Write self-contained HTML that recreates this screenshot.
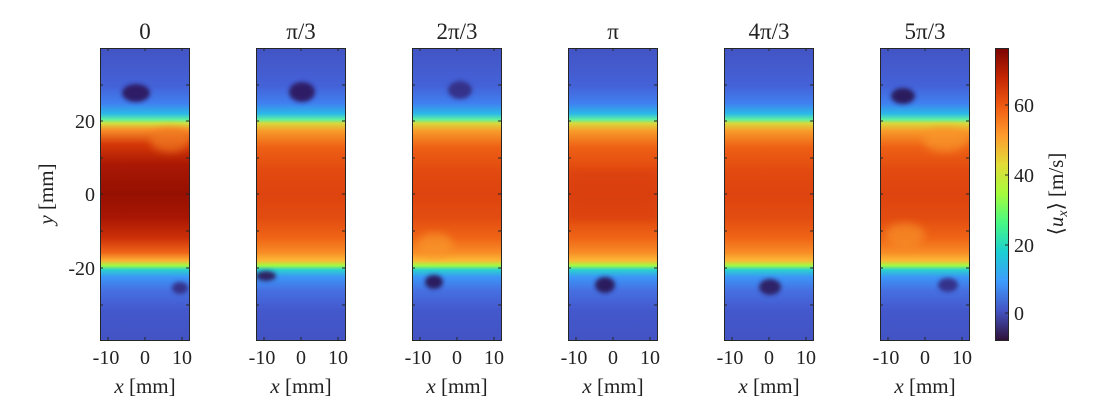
<!DOCTYPE html>
<html><head><meta charset="utf-8"><style>
html,body{margin:0;padding:0;background:#fff}
svg text{font-family:"Liberation Serif","DejaVu Serif",serif;fill:#222}
</style></head><body>
<svg width="1113" height="414" viewBox="0 0 1113 414" xmlns="http://www.w3.org/2000/svg">
<defs>
<filter id="bl" x="-50%" y="-50%" width="200%" height="200%"><feGaussianBlur stdDeviation="4"/></filter>
<filter id="bl2" x="-50%" y="-50%" width="200%" height="200%"><feGaussianBlur stdDeviation="2"/></filter>
<linearGradient id="g0" x1="0" y1="48" x2="0" y2="340" gradientUnits="userSpaceOnUse">
<stop offset="0" stop-color="#4354c4"/><stop offset="0.13" stop-color="#4462d8"/>
<stop offset="0.19" stop-color="#4080f0"/><stop offset="0.225" stop-color="#2ab8e8"/>
<stop offset="0.245" stop-color="#60f0a0"/><stop offset="0.258" stop-color="#d0e040"/>
<stop offset="0.28" stop-color="#f8902a"/><stop offset="0.33" stop-color="#d43808"/>
<stop offset="0.4" stop-color="#a91804"/><stop offset="0.5" stop-color="#961001"/>
<stop offset="0.58" stop-color="#a81603"/><stop offset="0.65" stop-color="#cc3008"/>
<stop offset="0.7" stop-color="#ef6418"/><stop offset="0.728" stop-color="#fbb035"/>
<stop offset="0.745" stop-color="#a2fa42"/><stop offset="0.76" stop-color="#2ad0cf"/>
<stop offset="0.785" stop-color="#3b95f7"/><stop offset="0.83" stop-color="#4670e2"/>
<stop offset="0.9" stop-color="#4358cc"/><stop offset="1" stop-color="#4354c4"/>
</linearGradient>
<linearGradient id="g1" x1="0" y1="48" x2="0" y2="340" gradientUnits="userSpaceOnUse">
<stop offset="0" stop-color="#4354c4"/><stop offset="0.13" stop-color="#4462d8"/>
<stop offset="0.19" stop-color="#4080f0"/><stop offset="0.225" stop-color="#2ab8e8"/>
<stop offset="0.245" stop-color="#60f0a0"/><stop offset="0.258" stop-color="#d8d83c"/>
<stop offset="0.285" stop-color="#f89a2a"/><stop offset="0.34" stop-color="#ee6015"/>
<stop offset="0.42" stop-color="#e24a10"/><stop offset="0.5" stop-color="#de440f"/>
<stop offset="0.58" stop-color="#e24c10"/><stop offset="0.65" stop-color="#ef6416"/>
<stop offset="0.7" stop-color="#f88c26"/><stop offset="0.728" stop-color="#fbb835"/>
<stop offset="0.745" stop-color="#a2fa42"/><stop offset="0.76" stop-color="#2ad0cf"/>
<stop offset="0.785" stop-color="#3b95f7"/><stop offset="0.83" stop-color="#4670e2"/>
<stop offset="0.9" stop-color="#4358cc"/><stop offset="1" stop-color="#4354c4"/>
</linearGradient>
<linearGradient id="cb" x1="0" y1="340" x2="0" y2="48" gradientUnits="userSpaceOnUse">
<stop offset="0" stop-color="#30123b"/><stop offset="0.1" stop-color="#4454c4"/>
<stop offset="0.2" stop-color="#3e9bfe"/><stop offset="0.3" stop-color="#1bcfd4"/>
<stop offset="0.4" stop-color="#46f884"/><stop offset="0.5" stop-color="#a4fc3c"/>
<stop offset="0.6" stop-color="#e2dc38"/><stop offset="0.7" stop-color="#fe9b2d"/>
<stop offset="0.8" stop-color="#f05b12"/><stop offset="0.9" stop-color="#c32503"/>
<stop offset="1" stop-color="#7a0403"/>
</linearGradient>
<clipPath id="c0"><rect x="100" y="48" width="89" height="292"/></clipPath>
<clipPath id="c1"><rect x="256" y="48" width="89" height="292"/></clipPath>
<clipPath id="c2"><rect x="412" y="48" width="89" height="292"/></clipPath>
<clipPath id="c3"><rect x="568" y="48" width="89" height="292"/></clipPath>
<clipPath id="c4"><rect x="724" y="48" width="89" height="292"/></clipPath>
<clipPath id="c5"><rect x="880" y="48" width="89" height="292"/></clipPath>
</defs>

<g clip-path="url(#c0)">
<rect x="100" y="48" width="89" height="292" fill="url(#g0)"/>
<ellipse cx="136" cy="93" rx="14" ry="9" fill="#2f1f66" filter="url(#bl2)"/>
<ellipse cx="180" cy="288" rx="8" ry="6" fill="#35308a" filter="url(#bl2)"/>
<ellipse cx="170" cy="140" rx="20" ry="12" fill="#f07a20" opacity="0.7" filter="url(#bl)"/>
</g>
<g clip-path="url(#c1)">
<rect x="256" y="48" width="89" height="292" fill="url(#g1)"/>
<ellipse cx="302" cy="92" rx="13" ry="10" fill="#2f1f66" filter="url(#bl2)"/>
<ellipse cx="266" cy="276" rx="10" ry="5" fill="#2f2060" filter="url(#bl2)"/>
</g>
<g clip-path="url(#c2)">
<rect x="412" y="48" width="89" height="292" fill="url(#g1)"/>
<ellipse cx="460" cy="90" rx="12" ry="9" fill="#34308a" filter="url(#bl2)"/>
<ellipse cx="434" cy="282" rx="9" ry="7" fill="#2c1c5e" filter="url(#bl2)"/>
<ellipse cx="435" cy="245" rx="18" ry="12" fill="#f8962a" opacity="0.7" filter="url(#bl)"/>
</g>
<g clip-path="url(#c3)">
<rect x="568" y="48" width="89" height="292" fill="url(#g1)"/>
<ellipse cx="605" cy="285" rx="10" ry="8" fill="#2c1c5e" filter="url(#bl2)"/>
<rect x="568" y="170" width="89" height="50" fill="#d83e0c" opacity="0.6" filter="url(#bl)"/>
</g>
<g clip-path="url(#c4)">
<rect x="724" y="48" width="89" height="292" fill="url(#g1)"/>
<ellipse cx="770" cy="287" rx="11" ry="8" fill="#2f2468" filter="url(#bl2)"/>
</g>
<g clip-path="url(#c5)">
<rect x="880" y="48" width="89" height="292" fill="url(#g1)"/>
<ellipse cx="903" cy="96" rx="12" ry="8" fill="#2c1c5e" filter="url(#bl2)"/>
<ellipse cx="948" cy="285" rx="10" ry="7" fill="#34308a" filter="url(#bl2)"/>
<ellipse cx="945" cy="140" rx="22" ry="12" fill="#f8962a" opacity="0.7" filter="url(#bl)"/>
<ellipse cx="905" cy="235" rx="20" ry="12" fill="#f8962a" opacity="0.6" filter="url(#bl)"/>
</g>

<g fill="none" stroke="#262626" stroke-width="1">
<rect x="100.5" y="48.5" width="89" height="292"/>
<rect x="256.5" y="48.5" width="89" height="292"/>
<rect x="412.5" y="48.5" width="89" height="292"/>
<rect x="568.5" y="48.5" width="89" height="292"/>
<rect x="724.5" y="48.5" width="89" height="292"/>
<rect x="880.5" y="48.5" width="89" height="292"/>
<rect x="995.5" y="48.5" width="13" height="292"/>
</g>
<rect x="996" y="49" width="12" height="291" fill="url(#cb)"/>
<g stroke="#262626" stroke-width="1">
<path d="M100 85h3M100 121h3M100 158h3M100 194h3M100 231h3M100 268h3M100 305h3 M189 85h-3M189 121h-3M189 158h-3M189 194h-3M189 231h-3M189 268h-3M189 305h-3"/>
<path d="M256 85h3M256 121h3M256 158h3M256 194h3M256 231h3M256 268h3M256 305h3 M345 85h-3M345 121h-3M345 158h-3M345 194h-3M345 231h-3M345 268h-3M345 305h-3"/>
<path d="M412 85h3M412 121h3M412 158h3M412 194h3M412 231h3M412 268h3M412 305h3 M501 85h-3M501 121h-3M501 158h-3M501 194h-3M501 231h-3M501 268h-3M501 305h-3"/>
<path d="M568 85h3M568 121h3M568 158h3M568 194h3M568 231h3M568 268h3M568 305h3 M657 85h-3M657 121h-3M657 158h-3M657 194h-3M657 231h-3M657 268h-3M657 305h-3"/>
<path d="M724 85h3M724 121h3M724 158h3M724 194h3M724 231h3M724 268h3M724 305h3 M813 85h-3M813 121h-3M813 158h-3M813 194h-3M813 231h-3M813 268h-3M813 305h-3"/>
<path d="M880 85h3M880 121h3M880 158h3M880 194h3M880 231h3M880 268h3M880 305h3 M969 85h-3M969 121h-3M969 158h-3M969 194h-3M969 231h-3M969 268h-3M969 305h-3"/>
<path d="M108 48v3M145 48v3M182 48v3M108 340v-3M145 340v-3M182 340v-3"/>
<path d="M264 48v3M301 48v3M338 48v3M264 340v-3M301 340v-3M338 340v-3"/>
<path d="M420 48v3M457 48v3M494 48v3M420 340v-3M457 340v-3M494 340v-3"/>
<path d="M576 48v3M613 48v3M650 48v3M576 340v-3M613 340v-3M650 340v-3"/>
<path d="M732 48v3M769 48v3M806 48v3M732 340v-3M769 340v-3M806 340v-3"/>
<path d="M888 48v3M925 48v3M962 48v3M888 340v-3M925 340v-3M962 340v-3"/>
<path d="M1008 105h-3M1008 175h-3M1008 245h-3M1008 313h-3"/>
</g>

<g font-size="23" text-anchor="middle">
<text x="145" y="39">0</text>
<text x="301" y="39">π/3</text>
<text x="457" y="39">2π/3</text>
<text x="613" y="39">π</text>
<text x="769" y="39">4π/3</text>
<text x="925" y="39">5π/3</text>
</g>
<g font-size="20" text-anchor="end">
<text x="95" y="128">20</text>
<text x="95" y="201">0</text>
<text x="95" y="275">-20</text>
</g>
<g font-size="20" text-anchor="middle">
<text x="106" y="364">-10</text><text x="145" y="364">0</text><text x="182" y="364">10</text>
<text x="262" y="364">-10</text><text x="301" y="364">0</text><text x="338" y="364">10</text>
<text x="418" y="364">-10</text><text x="457" y="364">0</text><text x="494" y="364">10</text>
<text x="574" y="364">-10</text><text x="613" y="364">0</text><text x="650" y="364">10</text>
<text x="730" y="364">-10</text><text x="769" y="364">0</text><text x="806" y="364">10</text>
<text x="886" y="364">-10</text><text x="925" y="364">0</text><text x="962" y="364">10</text>
</g>
<g font-size="21" text-anchor="middle">
<text x="145" y="393"><tspan font-style="italic">x</tspan> [mm]</text>
<text x="301" y="393"><tspan font-style="italic">x</tspan> [mm]</text>
<text x="457" y="393"><tspan font-style="italic">x</tspan> [mm]</text>
<text x="613" y="393"><tspan font-style="italic">x</tspan> [mm]</text>
<text x="769" y="393"><tspan font-style="italic">x</tspan> [mm]</text>
<text x="925" y="393"><tspan font-style="italic">x</tspan> [mm]</text>
<text transform="translate(53,194) rotate(-90)"><tspan font-style="italic">y</tspan> [mm]</text>
<text transform="translate(1063,194) rotate(-90)">⟨<tspan font-style="italic">u</tspan><tspan font-style="italic" font-size="14" dy="4">x</tspan><tspan dy="-4">⟩ [m/s]</tspan></text>
</g>
<g font-size="20" text-anchor="start">
<text x="1014" y="112">60</text>
<text x="1014" y="182">40</text>
<text x="1014" y="252">20</text>
<text x="1014" y="320">0</text>
</g>
</svg>
</body></html>
